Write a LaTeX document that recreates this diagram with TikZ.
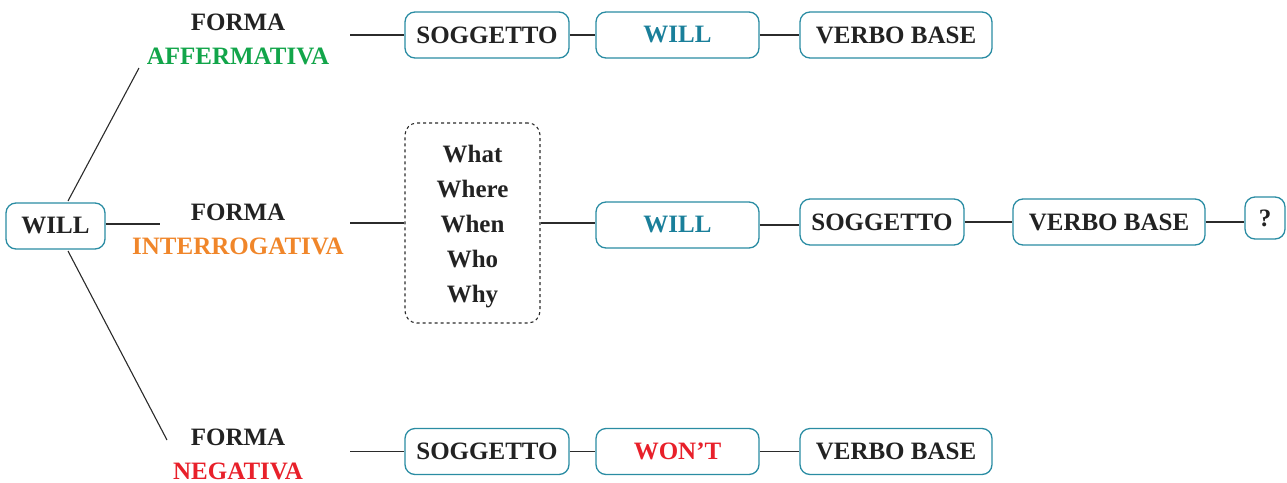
\documentclass[tikz,border=0pt]{standalone}
\usepackage{fontspec}
\setmainfont{Liberation Serif}
\definecolor{boxc}{HTML}{2A8CA3}
\definecolor{tealt}{HTML}{1A7F9A}
\definecolor{greenc}{HTML}{12A54A}
\definecolor{orangec}{HTML}{F0862A}
\definecolor{redc}{HTML}{E8202A}
\definecolor{linec}{HTML}{2B2B2B}
\definecolor{txt}{HTML}{222222}
\begin{document}
\begin{tikzpicture}[x=1pt,y=-1pt,
  every node/.style={font=\fontsize{25}{34}\selectfont\bfseries, text=txt},
  rbox/.style={draw=boxc, line width=1.3pt, rounded corners=10pt, inner sep=0pt, minimum height=46pt},
  dbox/.style={draw=linec, line width=1.1pt, dashed, rounded corners=12pt, inner sep=0pt, minimum width=135pt, minimum height=200pt},
  wtext/.style={align=center, inner sep=0pt, font=\fontsize{25}{35}\selectfont\bfseries},
  lab/.style={align=center, inner sep=0pt, minimum width=224pt},
  conn/.style={draw=linec, line width=1.1pt}]
\useasboundingbox (0,0) rectangle (1287,482);
% root
\node[rbox, minimum width=99pt] (will) at (55.5,226) {WILL};
% labels
\node[lab] (la) at (238,39) {FORMA\\\textcolor{greenc}{AFFERMATIVA}};
\node[lab] (li) at (238,229) {FORMA\\\textcolor{orangec}{INTERROGATIVA}};
\node[lab] (ln) at (238,454) {FORMA\\\textcolor{redc}{NEGATIVA}};
\coordinate (w1) at (68,201);
\coordinate (w2) at (68,251);
\coordinate (a1) at (139,68);
\coordinate (a2) at (167,440);
\coordinate (m) at (160,224);
\draw[conn] (w1) -- (a1);
\draw[conn] (w2) -- (a2);
\draw[conn] (will.east |- m) -- (m);
% top row
\node[rbox, minimum width=164pt] (s1) at (487,35) {SOGGETTO};
\node[rbox, minimum width=163pt, text=tealt] (v1) at (677.5,35) {WILL};
\node[rbox, minimum width=192pt] (b1) at (896,35) {VERBO BASE};
\draw[conn] (s1.west -| la.east) -- (s1.west);
\draw[conn] (s1) -- (v1);
\draw[conn] (v1) -- (b1);
% middle row
\node[dbox] (wh) at (472.5,223) {};
\node[wtext] (wht) at (472.5,227) {What\\Where\\When\\Who\\Why};
\node[rbox, minimum width=163pt, text=tealt] (v2) at (677.5,225) {WILL};
\node[rbox, minimum width=164pt] (s2) at (882,222) {SOGGETTO};
\node[rbox, minimum width=192pt] (b2) at (1109,222) {VERBO BASE};
\node[rbox, minimum width=40pt, minimum height=42pt] (q) at (1265,218) {?};
\draw[conn] (wh.west -| li.east) -- (wh.west);
\draw[conn] (wh.east) -- (wh.east -| v2.west);
\draw[conn] (v2.east) -- (v2.east -| s2.west);
\draw[conn] (s2) -- (b2);
\draw[conn] (b2.east) -- (b2.east -| q.west);
% bottom row
\node[rbox, minimum width=164pt] (s3) at (487,451.5) {SOGGETTO};
\node[rbox, minimum width=163pt, text=redc] (v3) at (677.5,451.5) {WON’T};
\node[rbox, minimum width=192pt] (b3) at (896,451.5) {VERBO BASE};
\draw[conn] (s3.west -| ln.east) -- (s3.west);
\draw[conn] (s3) -- (v3);
\draw[conn] (v3) -- (b3);
\end{tikzpicture}
\end{document}
